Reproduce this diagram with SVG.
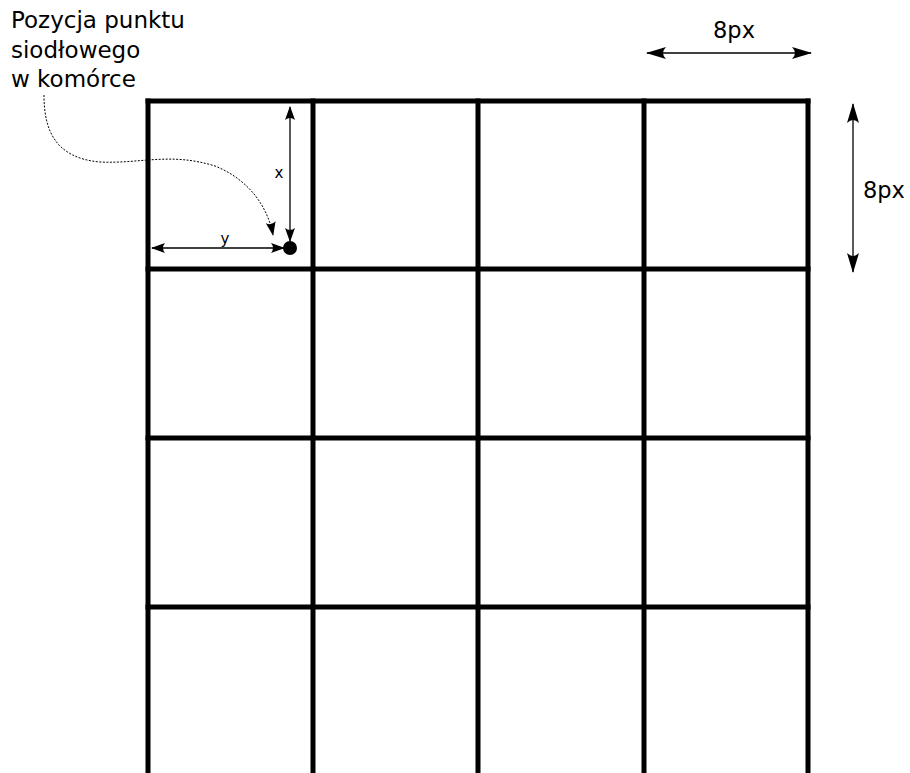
<svg xmlns="http://www.w3.org/2000/svg" width="910" height="773" viewBox="0 0 910 773">
<style>
.grid{stroke:#000;stroke-width:5;fill:none;stroke-linecap:square}
.dim{stroke:#000;stroke-width:1.3;fill:none}
.lbl{font-family:"DejaVu Sans",sans-serif;fill:#000}
</style>
<defs>
<marker id="ah" viewBox="0 0 20 12" refX="19" refY="6" markerWidth="20" markerHeight="12" markerUnits="userSpaceOnUse" orient="auto-start-reverse">
<path d="M20,6 L0,0 Q6,6 0,12 Z" fill="#000"/>
</marker>
<marker id="ahs" viewBox="0 0 14 10" refX="13" refY="5" markerWidth="14" markerHeight="10" markerUnits="userSpaceOnUse" orient="auto-start-reverse">
<path d="M14,5 L0,0 Q4,5 0,10 Z" fill="#000"/>
</marker>
</defs>
<g id="grid">
<path class="grid" d="M148,101 H808 M148,269 H808 M148,438 H808 M148,607 H808"/>
<path class="grid" d="M148,101 V773 M313,101 V773 M478,101 V773 M644,101 V773 M808,101 V773"/>
</g>
<g id="connectors">
<line class="dim" x1="647" y1="53" x2="811" y2="53" marker-start="url(#ah)" marker-end="url(#ah)"/>
<line class="dim" x1="853" y1="104" x2="853" y2="272" marker-start="url(#ah)" marker-end="url(#ah)"/>
<line class="dim" x1="290" y1="107" x2="290" y2="241" marker-start="url(#ahs)" marker-end="url(#ahs)"/>
<line class="dim" x1="152" y1="248" x2="284" y2="248" marker-start="url(#ahs)" marker-end="url(#ahs)"/>
<path d="M44,95 C44,130 55,158 100,162 C140,164 170,152 215,166 C250,180 268,208 273,235" fill="none" stroke="#000" stroke-width="1" stroke-dasharray="2,1.5" marker-end="url(#ahs)"/>
</g>
<g id="point"><circle cx="290" cy="248" r="7" fill="#000"/></g>
<g id="labels">
<text class="lbl" x="11" y="28" font-size="23">Pozycja punktu</text>
<text class="lbl" x="11" y="57.5" font-size="23">siodłowego</text>
<text class="lbl" x="11" y="87" font-size="23">w komórce</text>
<text class="lbl" x="734" y="38" font-size="22.5" text-anchor="middle">8px</text>
<text class="lbl" x="863" y="198" font-size="22.5">8px</text>
<text class="lbl" x="279" y="178" font-size="15" text-anchor="middle">x</text>
<text class="lbl" x="225" y="244" font-size="15" text-anchor="middle">y</text>
</g>
</svg>
